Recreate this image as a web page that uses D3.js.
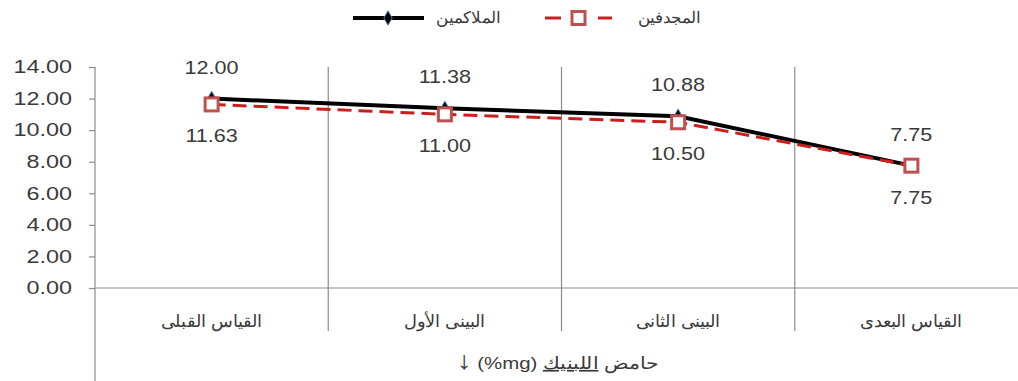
<!DOCTYPE html>
<html lang="ar">
<head>
<meta charset="utf-8">
<script src="https://cdn.jsdelivr.net/npm/d3@7"></script>
<style>
  html, body { margin: 0; padding: 0; background: #fff; }
  svg { display: block; font-family: "Liberation Sans", Arial, sans-serif; }
</style>
</head>
<body>
<svg id="chart" width="1018" height="381"></svg>
<script>
// Measurement stages (left to right)
const categories = ["القياس القبلى", "البينى الأول", "البينى الثانى", "القياس البعدى"];
// Boxers
const boxers = [12.00, 11.38, 10.88, 7.75];
// Rowers
const rowers = [11.63, 11.00, 10.50, 7.75];
const yTicks = [0, 2, 4, 6, 8, 10, 12, 14];
const boxersName = "الملاكمين";
const rowersName = "المجدفين";
const titleParts = ["حامض ", "اللبنيك", " (mg%) ", "↓"];

(function draw() {
  const svg = d3.select("#chart");
  const m = { left: 95, right: 1028, top: 67, bottom: 288 };

  const x = d3.scaleBand().domain(categories).range([m.left, m.right]);
  const y = d3.scaleLinear().domain([0, 14]).range([m.bottom, m.top]);

  const grey = "#8c8c8c";
  const textCol = "#3a3a3a";

  // widen glyphs horizontally around a fixed anchor x
  function widen(sel, f, ax) {
    sel.attr("transform", function (d, i) {
      const a = typeof ax === "function" ? ax(d, i) : ax;
      return `translate(${a},0) scale(${f},1) translate(${-a},0)`;
    });
  }

  // Category separators (extend through the label row)
  const bounds = categories.slice(1).map(c => x(c));
  svg.selectAll("line.sep").data(bounds).enter().append("line")
    .attr("x1", d => d).attr("x2", d => d)
    .attr("y1", m.top).attr("y2", 331)
    .attr("stroke", grey).attr("stroke-width", 1.2);

  // Y axis
  const yAxis = d3.axisLeft(y).tickValues(yTicks).tickFormat(d3.format(".2f")).tickSize(6).tickPadding(17);
  const gy = svg.append("g").attr("transform", `translate(${m.left},0)`).call(yAxis);
  gy.select(".domain").remove();
  gy.selectAll(".tick line").attr("stroke", grey).attr("stroke-width", 1.2);
  gy.selectAll(".tick text").attr("fill", textCol).style("font-size", "18px")
    .style("font-family", "'Liberation Sans', Arial, sans-serif");
  widen(gy.selectAll(".tick text"), 1.3, -23);
  svg.append("line").attr("x1", m.left).attr("x2", m.left).attr("y1", m.top).attr("y2", 381)
    .attr("stroke", grey).attr("stroke-width", 1.2);

  // X axis baseline
  svg.append("line").attr("x1", m.left).attr("x2", m.right).attr("y1", y(0)).attr("y2", y(0))
    .attr("stroke", grey).attr("stroke-width", 1.2);

  // Category labels
  const catX = d => x(d) + x.bandwidth() / 2;
  const cats = svg.selectAll("text.cat").data(categories).enter().append("text")
    .attr("x", catX).attr("y", 327)
    .attr("text-anchor", "middle").attr("direction", "rtl")
    .attr("fill", textCol).style("font-size", "17px")
    .text(d => d);
  widen(cats, 1.05, catX);

  // Axis title
  const title = svg.append("text").attr("x", 558).attr("y", 369).attr("text-anchor", "middle")
    .attr("direction", "rtl").attr("fill", textCol).style("font-size", "17px");
  title.append("tspan").text(titleParts[0]);
  title.append("tspan").style("text-decoration", "underline").text(titleParts[1]);
  title.append("tspan").text(titleParts[2]);
  title.append("tspan").style("font-size", "25px").text(titleParts[3]);
  widen(title, 1.2, 558);

  const cx = (d, i) => x(categories[i]) + x.bandwidth() / 2;
  const line = d3.line().x(cx).y(d => y(d));

  // Boxers series
  svg.append("path").datum(boxers).attr("d", line)
    .attr("fill", "none").attr("stroke", "#000").attr("stroke-width", 4);
  // Rowers series
  svg.append("path").datum(rowers).attr("d", line)
    .attr("fill", "none").attr("stroke", "#c8201e").attr("stroke-width", 3)
    .attr("stroke-dasharray", "14,7");

  const diamond = d3.symbol().type(d3.symbolDiamond).size(60);
  svg.selectAll("path.bm").data(boxers).enter().append("path")
    .attr("d", diamond).attr("transform", (d, i) => `translate(${cx(d, i)},${y(d)})`)
    .attr("fill", "#000").attr("stroke", "#4f81bd").attr("stroke-width", 1);

  svg.selectAll("rect.rm").data(rowers).enter().append("rect")
    .attr("x", (d, i) => cx(d, i) - 6.5).attr("y", d => y(d) - 6.5)
    .attr("width", 13).attr("height", 13)
    .attr("fill", "#fff").attr("stroke", "#c0504d").attr("stroke-width", 3);

  // Value labels
  const bl = svg.selectAll("text.bl").data(boxers).enter().append("text")
    .attr("x", cx).attr("y", d => y(d) - 25).attr("text-anchor", "middle")
    .attr("fill", textCol).style("font-size", "18px").text(d => d.toFixed(2));
  widen(bl, 1.2, cx);
  const rl = svg.selectAll("text.rl").data(rowers).enter().append("text")
    .attr("x", cx).attr("y", d => y(d) + 38).attr("text-anchor", "middle")
    .attr("fill", textCol).style("font-size", "18px").text(d => d.toFixed(2));
  widen(rl, 1.2, cx);

  // Legend
  const lg = svg.append("g");
  lg.append("line").attr("x1", 353).attr("x2", 424).attr("y1", 18).attr("y2", 18)
    .attr("stroke", "#000").attr("stroke-width", 4);
  lg.append("path").attr("d", diamond).attr("transform", "translate(388,18)")
    .attr("fill", "#000").attr("stroke", "#4f81bd").attr("stroke-width", 1);
  const t1 = lg.append("text").attr("x", 500).attr("y", 23).attr("text-anchor", "end")
    .attr("fill", textCol).style("font-size", "16px").text(boxersName);
  widen(t1, 1.05, 500);
  lg.append("line").attr("x1", 545).attr("x2", 612).attr("y1", 18).attr("y2", 18)
    .attr("stroke", "#c8201e").attr("stroke-width", 3).attr("stroke-dasharray", "16,37");
  lg.append("rect").attr("x", 572).attr("y", 11.5).attr("width", 13).attr("height", 13)
    .attr("fill", "#fff").attr("stroke", "#c0504d").attr("stroke-width", 3);
  const t2 = lg.append("text").attr("x", 700).attr("y", 23).attr("text-anchor", "end")
    .attr("fill", textCol).style("font-size", "16px").text(rowersName);
  widen(t2, 1.05, 700);
})();
</script>
</body>
</html>
